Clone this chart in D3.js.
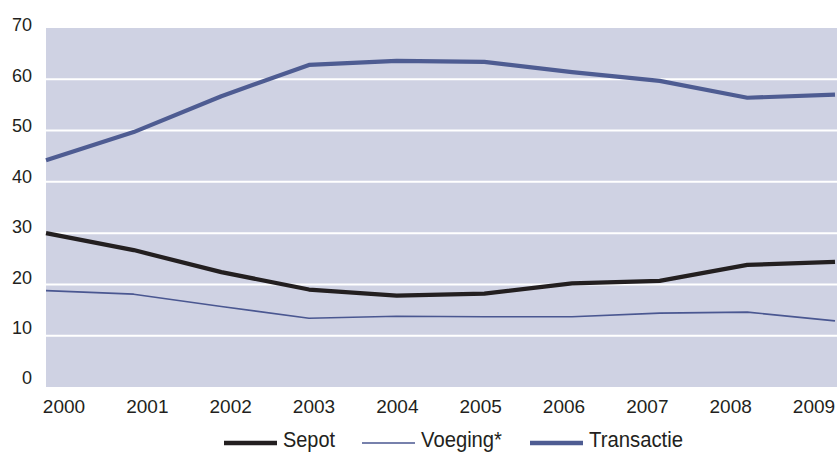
<!DOCTYPE html>
<html>
<head>
<meta charset="utf-8">
<script src="https://cdn.jsdelivr.net/npm/d3@7"></script>
<style>
  html, body { margin: 0; padding: 0; background: #fff; }
  svg { display: block; font-family: "Liberation Sans", Arial, sans-serif; }
</style>
</head>
<body>
<svg id="chart" width="837" height="452"></svg>
<script>
const years = ["2000","2001","2002","2003","2004","2005","2006","2007","2008","2009"];
const sepot = [30.0, 26.7, 22.4, 19.0, 17.8, 18.2, 20.2, 20.7, 23.8, 24.4];
const voeging = [18.8, 18.1, 15.7, 13.4, 13.8, 13.7, 13.7, 14.4, 14.6, 12.9];
const transactie = [44.2, 49.7, 56.7, 62.8, 63.6, 63.4, 61.4, 59.7, 56.4, 57.0];
const yTicks = [0, 10, 20, 30, 40, 50, 60, 70];
const seriesNames = ["Sepot", "Voeging*", "Transactie"];

const svg = d3.select("#chart");
const plotL = 46, plotR = 837, plotT = 28, plotB = 387;

const x = d3.scalePoint().domain(years).range([plotL, 835]);
const xLabel = d3.scalePoint().domain(years).range([64, 814]);
const y = d3.scaleLinear().domain([0, 70]).range([plotB, plotT]);
const yLabel = d3.scaleLinear().domain([0, 70]).range([378, 25]);

svg.append("rect").attr("x", plotL).attr("y", plotT)
  .attr("width", plotR - plotL).attr("height", plotB - plotT)
  .attr("fill", "#cfd2e3");

svg.append("g").selectAll("line")
  .data(yTicks.filter(d => d > 0 && d < 70))
  .join("line")
  .attr("x1", plotL).attr("x2", plotR)
  .attr("y1", d => y(d)).attr("y2", d => y(d))
  .attr("stroke", "#ffffff").attr("stroke-width", 2);

svg.append("g").selectAll("text")
  .data(yTicks).join("text")
  .attr("x", 32).attr("y", d => yLabel(d)).attr("dy", "0.36em")
  .attr("text-anchor", "end").attr("font-size", 18).attr("fill", "#231f20")
  .text(d => d);

svg.append("g").selectAll("text")
  .data(years).join("text")
  .attr("x", d => xLabel(d)).attr("y", 413)
  .attr("text-anchor", "middle").attr("font-size", 19).attr("fill", "#231f20")
  .text(d => d);

const styles = [
  { data: sepot, color: "#231f20", width: 4.2 },
  { data: voeging, color: "#4a5791", width: 1.6 },
  { data: transactie, color: "#4e5c92", width: 4.2 }
];

const line = d3.line().x((d, i) => x(years[i])).y(d => y(d));

styles.forEach(s => {
  svg.append("path").datum(s.data)
    .attr("d", line).attr("fill", "none")
    .attr("stroke", s.color).attr("stroke-width", s.width)
    .attr("stroke-linejoin", "round");
});

const legendX = [224, 362, 530];
const legendW = [52, 81, 94];
const lg = svg.append("g");
seriesNames.forEach((n, i) => {
  lg.append("line")
    .attr("x1", legendX[i]).attr("x2", legendX[i] + 53)
    .attr("y1", 443).attr("y2", 443)
    .attr("stroke", styles[i].color).attr("stroke-width", i === 1 ? 1.6 : 4.5);
  lg.append("text")
    .attr("x", legendX[i] + 59).attr("y", 447)
    .attr("font-size", 22).attr("fill", "#231f20")
    .attr("textLength", legendW[i]).attr("lengthAdjust", "spacingAndGlyphs")
    .text(n);
});
</script>
</body>
</html>
